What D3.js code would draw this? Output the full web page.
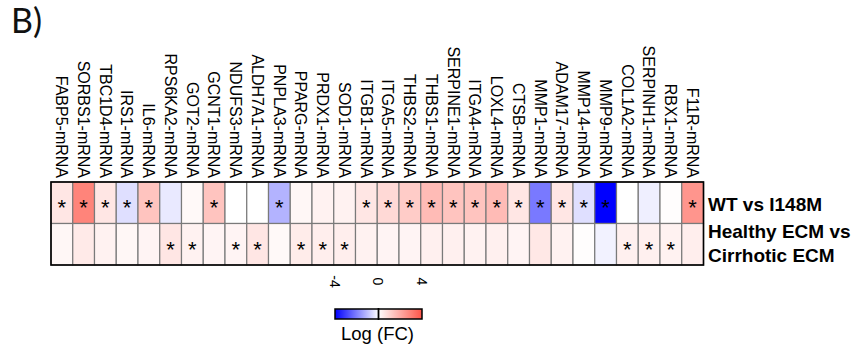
<!DOCTYPE html>
<html>
<head>
<meta charset="utf-8">
<script src="https://cdn.jsdelivr.net/npm/d3@7"></script>
<style>
  html, body { margin: 0; padding: 0; background: #fff; }
  svg { display: block; }
</style>
</head>
<body>
<svg id="chart" width="856" height="349"></svg>
<script>
// Genes shown as heatmap columns
const genes = ["FABP5-mRNA","SORBS1-mRNA","TBC1D4-mRNA","IRS1-mRNA","IL6-mRNA","RPS6KA2-mRNA",
  "GOT2-mRNA","GCNT1-mRNA","NDUFS3-mRNA","ALDH7A1-mRNA","PNPLA3-mRNA","PPARG-mRNA","PRDX1-mRNA",
  "SOD1-mRNA","ITGB1-mRNA","ITGA5-mRNA","THBS2-mRNA","THBS1-mRNA","SERPINE1-mRNA","ITGA4-mRNA",
  "LOXL4-mRNA","CTSB-mRNA","MMP1-mRNA","ADAM17-mRNA","MMP14-mRNA","MMP9-mRNA","COL1A2-mRNA",
  "SERPINH1-mRNA","RBX1-mRNA","F11R-mRNA"];

// Comparisons shown as rows
const comparisons = [["WT vs I148M"], ["Healthy ECM vs", "Cirrhotic ECM"]];

// Log fold change per gene
const logFcWT = [0.6, 2.9, 0.6, -0.5, 1.4, -0.35, 0.15, 1.4, 0, 0, -1.2, 0.2, 0.3, 0.3, 0.6,
  0.9, 1.2, 1.6, 1.4, 1.4, 1.6, 0.6, -2.1, 0.6, -0.5, -4, 0, -0.25, 0.05, 2.5];
const logFcECM = [0.2, 0.5, 0.3, 0.2, 0.25, 0.6, 0.3, 0.25, 0.25, 0.6, 0.15, 0.45, 0.4, 0.4, 0.3,
  0.25, 0.25, 0.35, 0.35, 0.3, 0.35, 0.25, 0.55, 0.3, 0.05, -0.2, 0.35, 0.35, 0.3, 0.4];

// Significant genes (marked with *)
const sigWT = ["FABP5-mRNA","SORBS1-mRNA","TBC1D4-mRNA","IRS1-mRNA","IL6-mRNA","GCNT1-mRNA",
  "PNPLA3-mRNA","ITGB1-mRNA","ITGA5-mRNA","THBS2-mRNA","THBS1-mRNA","SERPINE1-mRNA","ITGA4-mRNA",
  "LOXL4-mRNA","CTSB-mRNA","MMP1-mRNA","ADAM17-mRNA","MMP14-mRNA","MMP9-mRNA","F11R-mRNA"];
const sigECM = ["RPS6KA2-mRNA","GOT2-mRNA","NDUFS3-mRNA","ALDH7A1-mRNA","PPARG-mRNA","PRDX1-mRNA",
  "SOD1-mRNA","COL1A2-mRNA","SERPINH1-mRNA","RBX1-mRNA"];

// Colour legend ticks
const legendTicks = [-4, 0, 4];
const legendTitle = "Log (FC)";
const panelLabel = "B)";

const rows = [
  { values: logFcWT, sig: sigWT },
  { values: logFcECM, sig: sigECM }
];

const svg = d3.select("#chart");
const font = "'Liberation Sans', Arial, sans-serif";

const x = d3.scaleBand().domain(genes).range([51, 703.5]).padding(0);
const y = d3.scaleBand().domain(d3.range(rows.length)).range([182, 265]).padding(0);
const color = d3.scaleLinear().domain([-4, 0, 4])
  .range(["#0000ff", "#ffffff", "#ff5548"]).clamp(true);

// Panel label
svg.append("text")
  .attr("x", 11).attr("y", 33)
  .attr("font-family", "Lato, 'Open Sans', sans-serif")
  .attr("font-size", 34)
  .attr("fill", "#111")
  .text(panelLabel);

// Cells
const cells = [];
rows.forEach((r, ri) => genes.forEach((g, gi) => cells.push({ g, ri, v: r.values[gi], s: r.sig.includes(g) })));

svg.append("g").selectAll("rect").data(cells).join("rect")
  .attr("x", d => x(d.g))
  .attr("y", d => y(d.ri))
  .attr("width", x.bandwidth())
  .attr("height", y.bandwidth())
  .attr("fill", d => color(d.v))
  .attr("stroke", "#7a7a7a")
  .attr("stroke-width", 1.2);

// Significance markers
svg.append("g").selectAll("text").data(cells.filter(d => d.s)).join("text")
  .attr("x", d => x(d.g) + x.bandwidth() / 2)
  .attr("y", d => y(d.ri) + y.bandwidth() / 2 + 12.5)
  .attr("text-anchor", "middle")
  .attr("font-family", font)
  .attr("font-size", 22)
  .attr("fill", "#000")
  .text("*");

// Outer frame
svg.append("rect")
  .attr("x", x.range()[0]).attr("y", y.range()[0])
  .attr("width", x.range()[1] - x.range()[0])
  .attr("height", y.range()[1] - y.range()[0])
  .attr("fill", "none").attr("stroke", "#000").attr("stroke-width", 1.6);

// Gene labels (vertical)
svg.append("g").selectAll("text").data(genes).join("text")
  .attr("transform", d => `translate(${x(d) + x.bandwidth() / 2},178) rotate(90)`)
  .attr("text-anchor", "end")
  .attr("dy", "0.36em")
  .attr("font-family", font)
  .attr("font-size", 16)
  .attr("fill", "#000")
  .text(d => d);

// Row labels
comparisons.forEach((lines, ri) => {
  const t = svg.append("text")
    .attr("font-family", font)
    .attr("font-size", 19)
    .attr("font-weight", "bold")
    .attr("fill", "#000");
  const y0 = lines.length === 1 ? y(ri) + y.bandwidth() / 2 + 8 : y(ri) + y.bandwidth() / 2 - 6.75;
  lines.forEach((ln, li) => t.append("tspan").attr("x", 708).attr("y", y0 + li * 24.5).text(ln));
});

// Colour legend
const lx = d3.scaleLinear().domain([-4, 4]).range([335, 422]);
const defs = svg.append("defs");
const grad = defs.append("linearGradient").attr("id", "fcGrad")
  .attr("x1", "0%").attr("x2", "100%").attr("y1", "0%").attr("y2", "0%");
d3.range(-4, 4.01, 0.5).forEach(v => {
  grad.append("stop").attr("offset", `${(v + 4) / 8 * 100}%`).attr("stop-color", color(v));
});
svg.append("rect")
  .attr("x", lx(-4)).attr("y", 309)
  .attr("width", lx(4) - lx(-4)).attr("height", 10)
  .attr("fill", "url(#fcGrad)")
  .attr("stroke", "#000").attr("stroke-width", 1.5);
svg.append("line")
  .attr("x1", lx(0)).attr("x2", lx(0))
  .attr("y1", 308).attr("y2", 320)
  .attr("stroke", "#000").attr("stroke-width", 1.8);

svg.append("g").selectAll("text").data(legendTicks).join("text")
  .attr("transform", d => `translate(${lx(d)},281.5) rotate(90)`)
  .attr("text-anchor", "middle")
  .attr("dy", "0.36em")
  .attr("font-family", font)
  .attr("font-size", 14)
  .attr("fill", "#000")
  .text(d => d);

svg.append("text")
  .attr("x", lx(0) - 1).attr("y", 340)
  .attr("text-anchor", "middle")
  .attr("font-family", font)
  .attr("font-size", 18.5)
  .attr("fill", "#000")
  .text(legendTitle);
</script>
</body>
</html>
